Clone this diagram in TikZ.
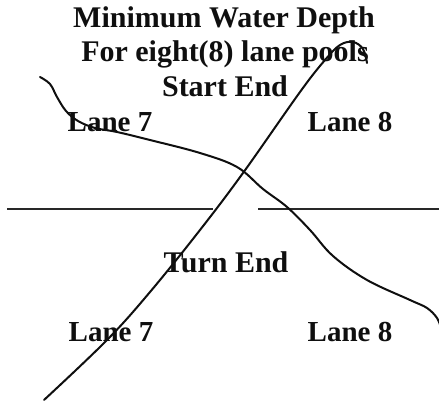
\documentclass[tikz,border=0pt]{standalone}
\usepackage{fontspec}
\setmainfont{Liberation Serif}
\usepackage{tikz}
\usetikzlibrary{positioning}
\definecolor{ink}{RGB}{15,15,15}
\definecolor{wallgray}{RGB}{40,40,40}
\tikzset{
    titletext/.style={font=\fontsize{30}{34}\selectfont\bfseries, text=ink, anchor=base, inner sep=0pt},
    lanetext/.style={font=\fontsize{29}{34}\selectfont\bfseries, text=ink, anchor=base, inner sep=0pt},
    stroke/.style={draw=ink, line width=2pt, line cap=round, line join=round},
    wall/.style={draw=wallgray, line width=1.3pt}
}
\begin{document}
\begin{tikzpicture}[x=1pt,y=-1pt]
\useasboundingbox (0,0) rectangle (439,414);
% heading
\node[titletext] (title) at (224,28) {Minimum Water Depth};
\node[titletext] (pools) at (225,62) {For eight(8) lane pools};
\node[titletext] (start) at (225,97) {Start End};
\node[lanetext] (startseven) at (110,132) {Lane 7};
\node[lanetext] (starteight) at (350,132) {Lane 8};
% pool wall
\draw[wall] (7,209) -- (213,209);
\draw[wall] (258,209) -- (439,209);
% turn end
\node[titletext] (turn) at (226,272) {Turn End};
\node[lanetext] (turnseven) at (111,341) {Lane 7};
\node[lanetext] (turneight) at (350,341) {Lane 8};
% hand drawn strokes
\draw[stroke] plot[smooth, tension=0.6] coordinates {(44,400) (107,340) (150,292) (200,230) (243,173) (300,92) (325,60) (340,45) (353,42) (363,49) (367,63)};
\draw[stroke] plot[smooth, tension=0.6] coordinates {(40,77) (50,84) (57,97) (66,111) (78,121) (95,128) (117,132) (150,140) (200,153) (237,167) (263,189) (287,207) (310,230) (333,256) (367,280) (410,300) (427,308) (437,318) (441,328)};
\end{tikzpicture}
\end{document}
